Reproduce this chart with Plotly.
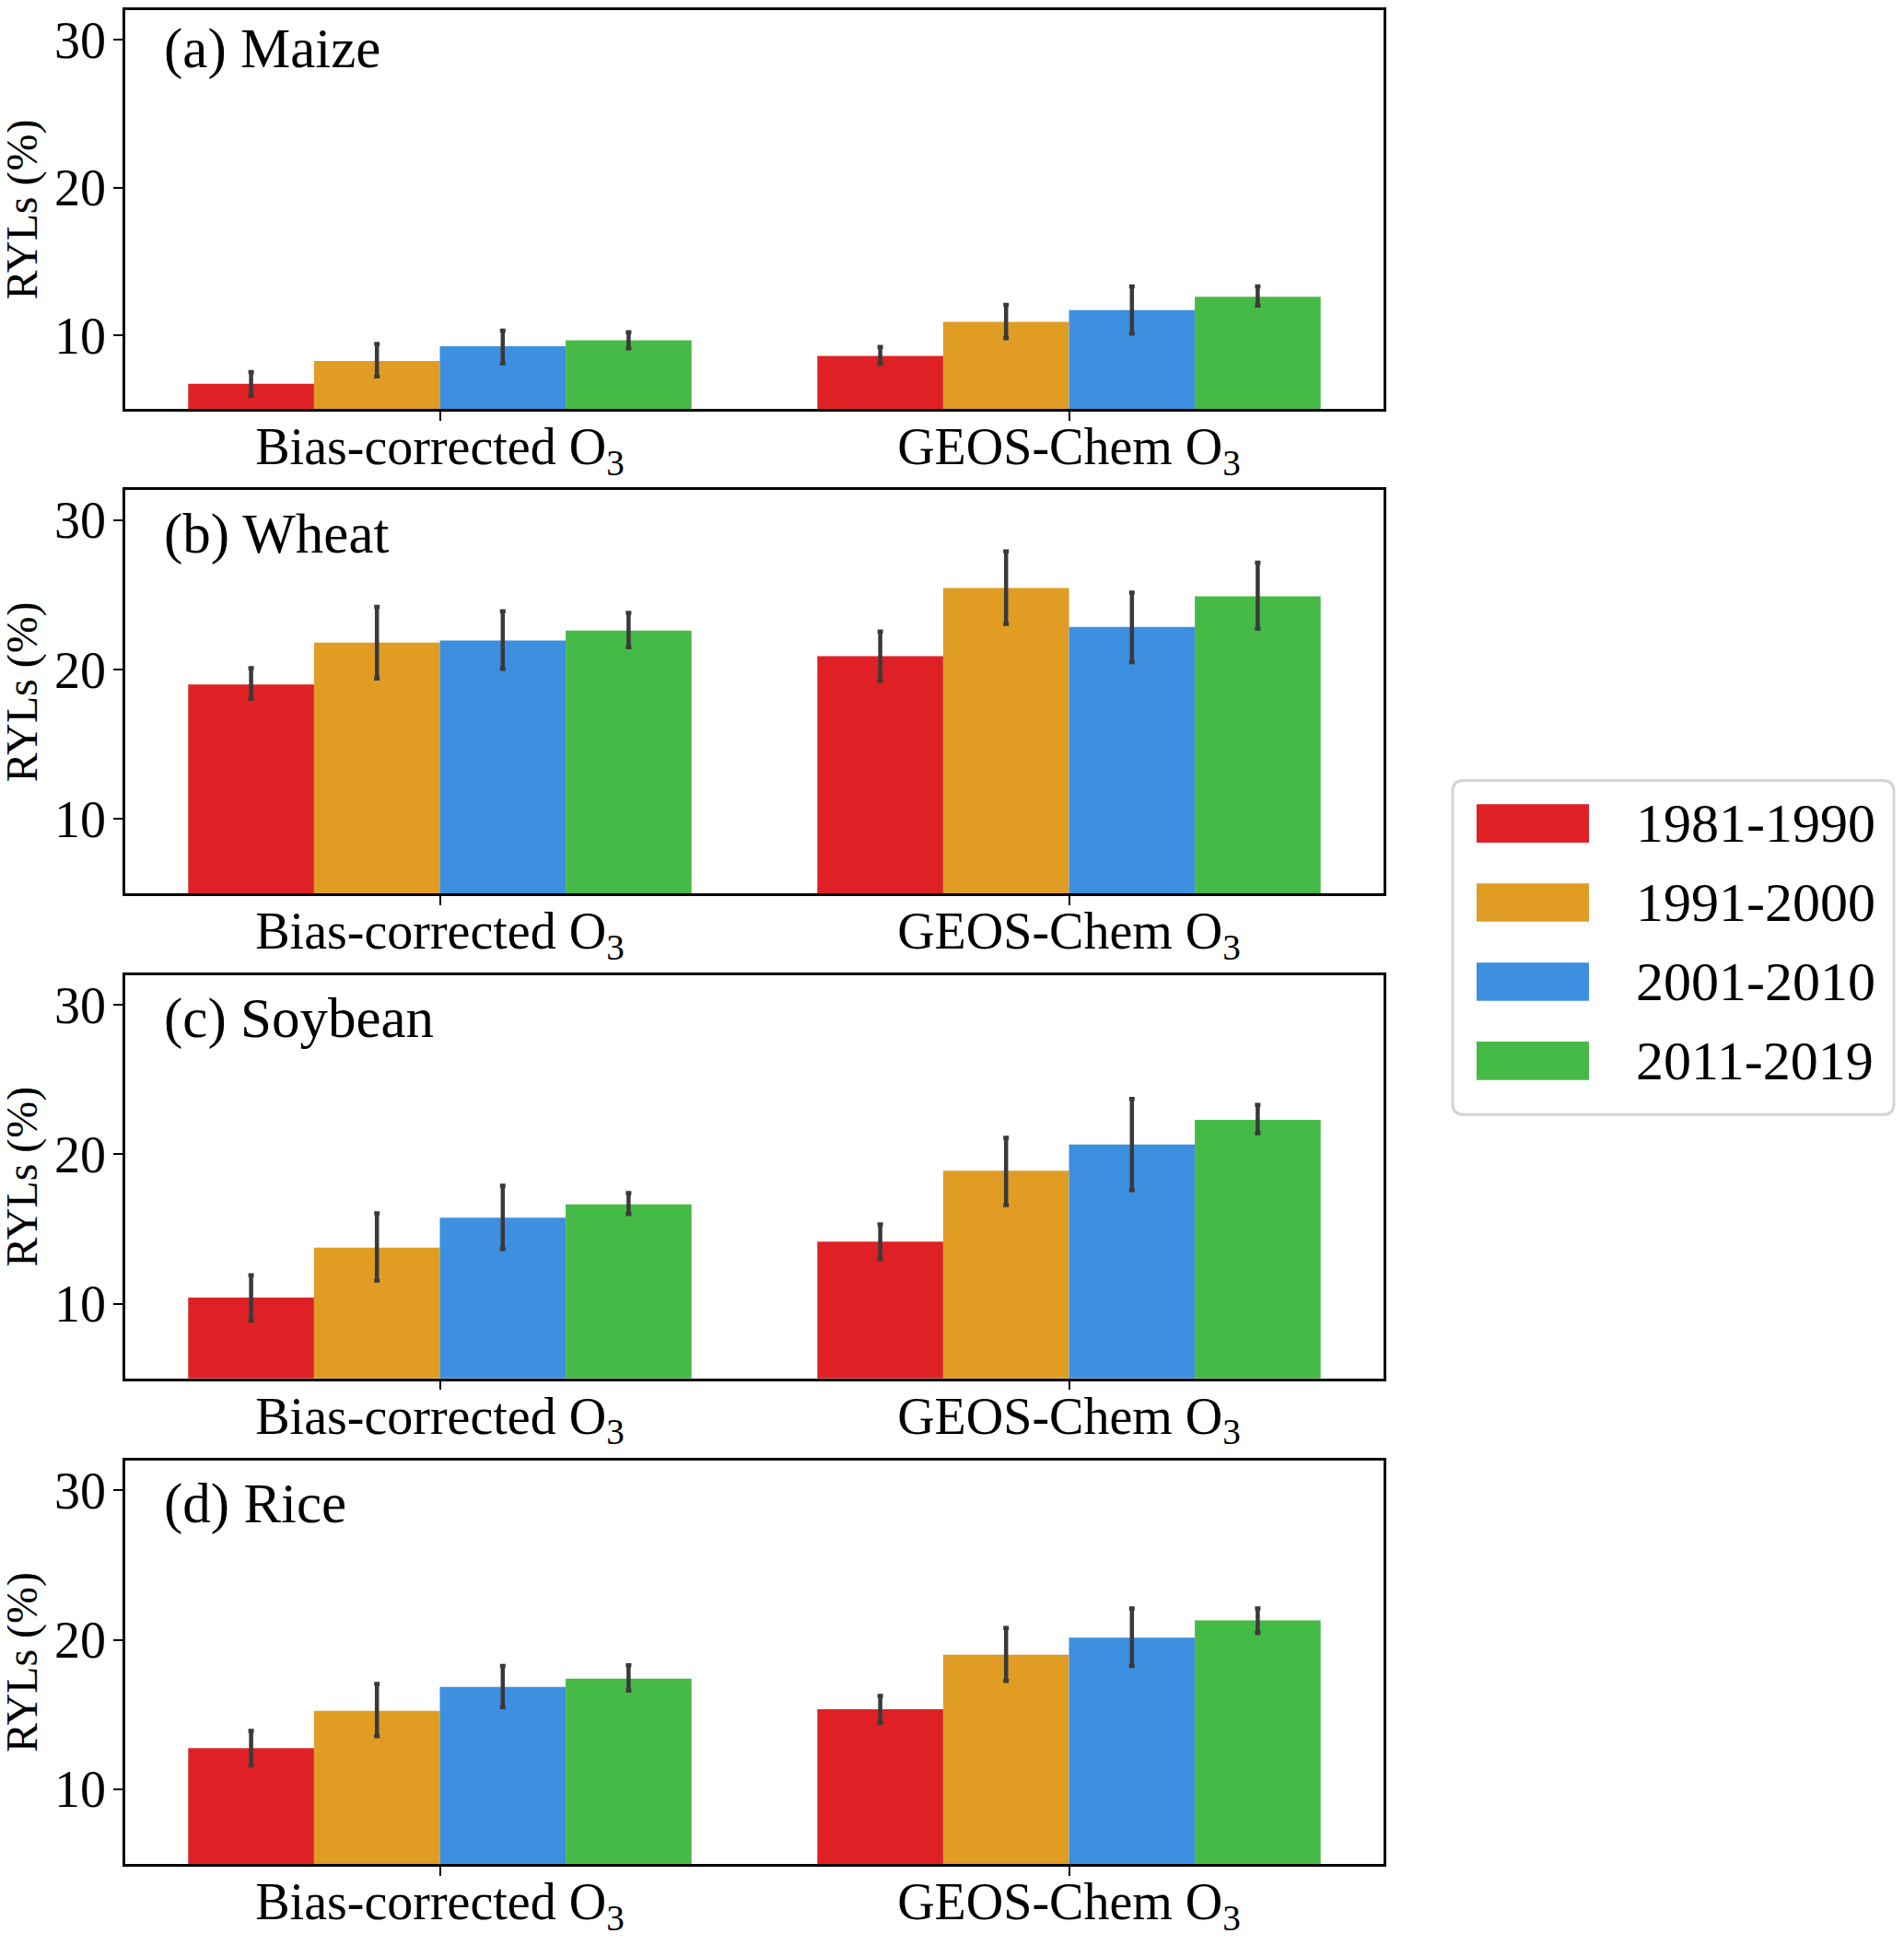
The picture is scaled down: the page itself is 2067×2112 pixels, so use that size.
import plotly.graph_objects as go

# categories
periods = ["1981-1990", "1991-2000", "2001-2010", "2011-2019"]
sources = ["Bias-corrected O<sub>3</sub>", "GEOS-Chem O<sub>3</sub>"]
crops = ["(a) Maize", "(b) Wheat", "(c) Soybean", "(d) Rice"]
colors = ["#DF2126", "#E09C23", "#3D8FE0", "#46BA46"]

# mean RYLs (%), one row per period: [bias-corrected, GEOS-Chem]
maize_mean = [[6.7, 8.6], [8.25, 10.9], [9.25, 11.7], [9.65, 12.6]]
wheat_mean = [[19.0, 20.9], [21.8, 25.45], [21.95, 22.85], [22.6, 24.9]]
soybean_mean = [[10.4, 14.15], [13.75, 18.9], [15.75, 20.65], [16.65, 22.3]]
rice_mean = [[12.75, 15.35], [15.25, 19.0], [16.85, 20.15], [17.4, 21.3]]

# confidence interval bounds
maize_lo = [[5.9, 8.05], [7.2, 9.8], [8.1, 10.1], [9.1, 12.0]]
maize_hi = [[7.5, 9.2], [9.4, 12.05], [10.3, 13.3], [10.2, 13.3]]
wheat_lo = [[18.05, 19.25], [19.4, 23.05], [20.05, 20.5], [21.5, 22.75]]
wheat_hi = [[20.1, 22.55], [24.2, 27.9], [23.9, 25.15], [23.8, 27.15]]
soybean_lo = [[8.85, 13.0], [11.55, 16.6], [13.65, 17.6], [16.0, 21.4]]
soybean_hi = [[11.9, 15.3], [16.05, 21.1], [17.9, 23.7], [17.4, 23.3]]
rice_lo = [[11.6, 14.45], [13.55, 17.25], [15.5, 18.25], [16.6, 20.45]]
rice_hi = [[13.9, 16.25], [17.05, 20.8], [18.25, 22.1], [18.3, 22.1]]

means = [maize_mean, wheat_mean, soybean_mean, rice_mean]
lows = [maize_lo, wheat_lo, soybean_lo, rice_lo]
highs = [maize_hi, wheat_hi, soybean_hi, rice_hi]

# the page body adds an 8px margin on every side, so the figure is
# made 16px smaller and positions below are given in screen pixels
OFF = 8
W, H = 2067 - 2 * OFF, 2112 - 2 * OFF
ML, MR, MT = 136 - OFF, 565 - OFF, 0
MB = H - (2039 - OFF)
PW = W - ML - MR
PH = H - MT - MB
FONT = "Liberation Serif, Times New Roman, serif"

def fx(p):
    return (p - OFF - ML) / PW

def fy(p):
    return (H - MB - (p - OFF)) / PH

# panel top/bottom in screen pixels, and where the panel label sits
panel_px = [(8, 445), (534, 976), (1065, 1507), (1597, 2039)]
label_px = [50, 582, 1113, 1645]

fig = go.Figure()
layout = {}
annotations = []

for i, crop in enumerate(crops):
    n = i + 1
    sx = "" if n == 1 else str(n)
    for j, period in enumerate(periods):
        y = means[i][j]
        fig.add_trace(go.Bar(
            x=sources,
            y=y,
            name=period,
            marker=dict(color=colors[j], line=dict(width=0)),
            error_y=dict(
                type="data",
                symmetric=False,
                array=[h - m for h, m in zip(highs[i][j], y)],
                arrayminus=[m - l for m, l in zip(y, lows[i][j])],
                color="#3a3a3a",
                thickness=4.5,
                width=3,
            ),
            xaxis="x" + sx,
            yaxis="y" + sx,
            showlegend=False,
        ))
    top, bot = panel_px[i]
    layout["xaxis" + sx] = dict(
        domain=[0, 1], anchor="y" + sx, range=[-0.5, 1.5],
        showline=True, linecolor="black", linewidth=2.5, mirror=True,
        ticks="outside", ticklen=10, tickwidth=2, tickcolor="black",
        ticklabelstandoff=-20,
        showgrid=False, tickfont=dict(family=FONT, size=56, color="black"),
    )
    layout["yaxis" + sx] = dict(
        domain=[fy(bot), fy(top)], anchor="x" + sx, range=[5, 32],
        tickvals=[10, 20, 30],
        showline=True, linecolor="black", linewidth=2.5, mirror=True,
        ticks="outside", ticklen=10, tickwidth=2, tickcolor="black",
        ticklabelstandoff=-3,
        showgrid=False, zeroline=False,
        tickfont=dict(family=FONT, size=56, color="black"),
    )
    annotations.append(dict(
        text=crop, xref="x%s domain" % sx, yref="y%s domain" % sx,
        x=40 / PW, y=(bot - label_px[i]) / (bot - top),
        xanchor="left", yanchor="middle",
        showarrow=False, font=dict(family=FONT, size=61, color="black"),
    ))
    annotations.append(dict(
        text="RYLs (%)", xref="x%s domain" % sx, yref="y%s domain" % sx,
        x=(24 - 136) / PW, y=0.5, xanchor="center", yanchor="middle",
        textangle=-90, showarrow=False,
        font=dict(family=FONT, size=48, color="black"),
    ))

# hand-made legend with wide swatches
shapes = []
bx0, bx1, by0, by1, r = 1577, 2056, 852, 1218, 12
pts = [
    ("M", bx0 + r, by0), ("L", bx1 - r, by0), ("Q", bx1, by0, bx1, by0 + r),
    ("L", bx1, by1 - r), ("Q", bx1, by1, bx1 - r, by1), ("L", bx0 + r, by1),
    ("Q", bx0, by1, bx0, by1 - r), ("L", bx0, by0 + r), ("Q", bx0, by0, bx0 + r, by0),
]
path = ""
for p in pts:
    cmd, coords = p[0], p[1:]
    xy = []
    for k in range(0, len(coords), 2):
        xy.append("%.5f,%.5f" % (fx(coords[k]), fy(coords[k + 1])))
    path += cmd + " " + " ".join(xy) + " "
shapes.append(dict(type="path", path=path + "Z", xref="paper", yref="paper",
                   line=dict(color="#d4d4d4", width=3), fillcolor="white"))

row0, row_step = 899, 86.7
for j, period in enumerate(periods):
    cy = row0 + j * row_step
    shapes.append(dict(type="rect", xref="paper", yref="paper",
                       x0=fx(1603), x1=fx(1725), y0=fy(cy + 21), y1=fy(cy - 21),
                       fillcolor=colors[j], line=dict(width=0)))
    annotations.append(dict(
        text=period, xref="paper", yref="paper", x=fx(1774), y=fy(cy),
        xanchor="left", yanchor="middle", showarrow=False,
        font=dict(family=FONT, size=60, color="black"),
    ))

fig.update_layout(
    **layout,
    width=W, height=H,
    margin=dict(l=ML, r=MR, t=MT, b=MB),
    barmode="group", bargap=0.2, bargroupgap=0,
    plot_bgcolor="white", paper_bgcolor="white",
    font=dict(family=FONT, color="black"),
    annotations=annotations, shapes=shapes,
    showlegend=False,
)

fig.write_html("out.html")
